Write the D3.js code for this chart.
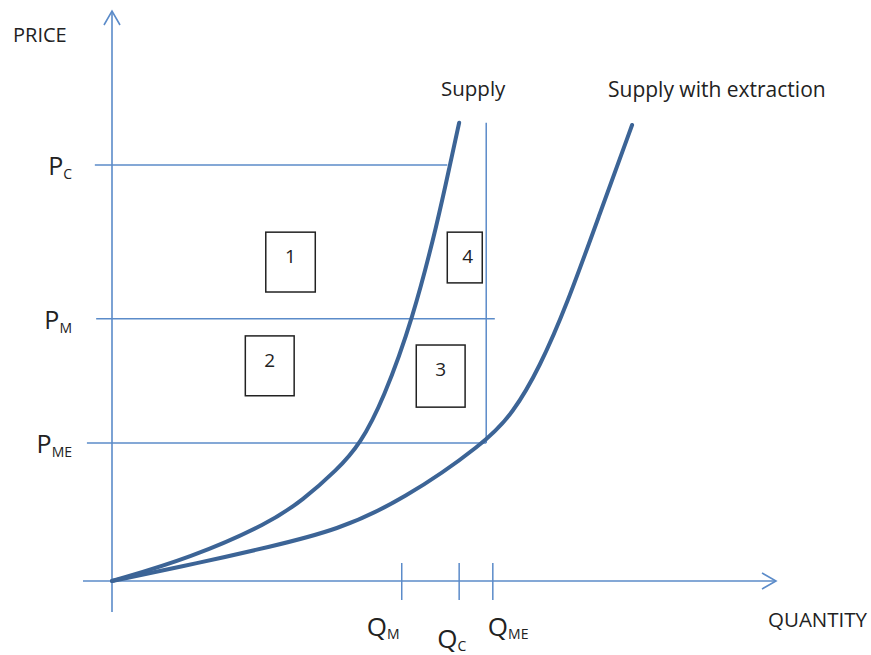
<!DOCTYPE html>
<html>
<head>
<meta charset="utf-8">
<script src="https://cdn.jsdelivr.net/npm/d3@7"></script>
<style>
  body { margin: 0; background: #fff; }
  svg { display: block; font-family: "Open Sans", Lato, sans-serif; }
  .lbl { fill: #222; }
</style>
</head>
<body>
<svg width="871" height="655"></svg>
<script>
// curve points (quantity, price on a 0-100 scale)
const supplyQ = [0, 11.8, 23.9, 28.9, 34.1, 37.6, 41.1, 45.6, 49.4, 51.2, 52.6];
const supplyP = [0, 4.0, 10.2, 14.2, 19.5, 24.0, 31.8, 46.0, 63.3, 73.0, 80.4];
const extractQ = [0, 13.3, 23.9, 34.1, 44.1, 56.5, 60.8, 64.8, 68.9, 73.9, 78.8];
const extractP = [0, 3.2, 6.0, 8.9, 14.2, 24.2, 29.5, 37.5, 48.4, 64.4, 80.0];

// price levels and how far across each guide line runs
const priceNames = ['C', 'M', 'ME'];
const priceValues = [73, 46, 24.2];
const priceLineStart = [-2.6, -2.4, -3.8];
const priceLineEnd = [50.8, 58.0, 56.7];

// quantity ticks
const qtyNames = ['M', 'C', 'ME'];
const qtyValues = [43.9, 52.6, 57.7];
const qtyLabelOffset = [-35, -22, -5];
const qtyLabelDrop = [55, 67, 55];

// vertical guide
const vLineQ = 56.7;
const vLineP = [24.2, 80.4];

// numbered boxes
const boxLabels = ['1', '2', '3', '4'];
const boxQ0 = [23.3, 20.2, 46.1, 50.8];
const boxQ1 = [30.8, 27.6, 53.5, 56.1];
const boxTop = [61.2, 43.0, 41.4, 61.2];
const boxBottom = [50.7, 32.5, 30.5, 52.3];

const x = d3.scaleLinear().domain([0, 100]).range([112, 772]);
const y = d3.scaleLinear().domain([0, 100]).range([581, 11]);

const svg = d3.select('svg');
const axisColor = '#5b8bc9';
const curveColor = '#3c6496';

// axes
svg.append('line')
  .attr('x1', x(0)).attr('x2', x(0))
  .attr('y1', 11).attr('y2', 612)
  .attr('stroke', axisColor).attr('stroke-width', 1.6);
svg.append('polyline')
  .attr('points', [[x(0) - 8, 25], [x(0), 11], [x(0) + 8, 25]].join(' '))
  .attr('fill', 'none').attr('stroke', axisColor).attr('stroke-width', 1.6);

svg.append('line')
  .attr('x1', 83).attr('x2', 776)
  .attr('y1', y(0)).attr('y2', y(0))
  .attr('stroke', axisColor).attr('stroke-width', 1.6);
svg.append('polyline')
  .attr('points', [[762, y(0) - 8], [776, y(0)], [762, y(0) + 8]].join(' '))
  .attr('fill', 'none').attr('stroke', axisColor).attr('stroke-width', 1.6);

// price guide lines
svg.selectAll('.pline')
  .data(priceValues)
  .enter()
  .append('line')
  .classed('pline', true)
  .attr('x1', (d, i) => x(priceLineStart[i]))
  .attr('x2', (d, i) => x(priceLineEnd[i]))
  .attr('y1', d => y(d)).attr('y2', d => y(d))
  .attr('stroke', axisColor).attr('stroke-width', 1.5);

svg.append('line')
  .attr('x1', x(vLineQ)).attr('x2', x(vLineQ))
  .attr('y1', y(vLineP[0])).attr('y2', y(vLineP[1]))
  .attr('stroke', axisColor).attr('stroke-width', 1.5);

// quantity ticks
svg.selectAll('.qtick')
  .data(qtyValues)
  .enter()
  .append('line')
  .classed('qtick', true)
  .attr('x1', d => x(d)).attr('x2', d => x(d))
  .attr('y1', y(0) - 18).attr('y2', y(0) + 19)
  .attr('stroke', axisColor).attr('stroke-width', 1.5);

// supply curves, smoothed through the read points
const line = d3.line()
  .x(d => x(d[0]))
  .y(d => y(d[1]))
  .curve(d3.curveBasis);

svg.append('path')
  .datum(supplyQ.map((q, i) => [q, supplyP[i]]))
  .attr('d', line)
  .attr('fill', 'none').attr('stroke', curveColor)
  .attr('stroke-width', 4).attr('stroke-linecap', 'round');

svg.append('path')
  .datum(extractQ.map((q, i) => [q, extractP[i]]))
  .attr('d', line)
  .attr('fill', 'none').attr('stroke', curveColor)
  .attr('stroke-width', 4).attr('stroke-linecap', 'round');

// numbered boxes
const boxes = svg.selectAll('.box')
  .data(boxLabels)
  .enter()
  .append('g')
  .classed('box', true);
boxes.append('rect')
  .attr('x', (d, i) => x(boxQ0[i]))
  .attr('y', (d, i) => y(boxTop[i]))
  .attr('width', (d, i) => x(boxQ1[i]) - x(boxQ0[i]))
  .attr('height', (d, i) => y(boxBottom[i]) - y(boxTop[i]))
  .attr('fill', 'none').attr('stroke', '#222').attr('stroke-width', 1.5);
boxes.append('text')
  .classed('lbl', true)
  .attr('x', (d, i) => (x(boxQ0[i]) + x(boxQ1[i])) / 2 + (d === '4' ? 3 : 0))
  .attr('y', (d, i) => y(boxTop[i]) + 31)
  .attr('text-anchor', 'middle')
  .attr('font-size', 19)
  .text(d => d);

// price labels (P with subscript)
const pLabels = svg.selectAll('.plabel')
  .data(priceNames)
  .enter()
  .append('text')
  .classed('lbl', true)
  .attr('text-anchor', 'end')
  .attr('x', 72)
  .attr('y', (d, i) => y(priceValues[i]) + 10)
  .attr('font-size', 25);
pLabels.append('tspan').text('P');
pLabels.append('tspan').attr('font-size', 14).attr('dy', 4).text(d => d);

// quantity labels
const qLabels = svg.selectAll('.qlabel')
  .data(qtyNames)
  .enter()
  .append('text')
  .classed('lbl', true)
  .attr('x', (d, i) => x(qtyValues[i]) + qtyLabelOffset[i])
  .attr('y', (d, i) => y(0) + qtyLabelDrop[i])
  .attr('font-size', 26);
qLabels.append('tspan').text('Q');
qLabels.append('tspan').attr('font-size', 14).attr('dy', 3).text(d => d);

// axis titles and curve names
svg.append('text').classed('lbl', true)
  .attr('x', 13).attr('y', 42).attr('font-size', 20).text('PRICE');
svg.append('text').classed('lbl', true)
  .attr('x', 768).attr('y', 627).attr('font-size', 20.5).text('QUANTITY');
svg.append('text').classed('lbl', true)
  .attr('x', 441).attr('y', 96).attr('font-size', 20.5).text('Supply');
svg.append('text').classed('lbl', true)
  .attr('x', 608).attr('y', 97).attr('font-size', 21).text('Supply with extraction');
</script>
</body>
</html>
